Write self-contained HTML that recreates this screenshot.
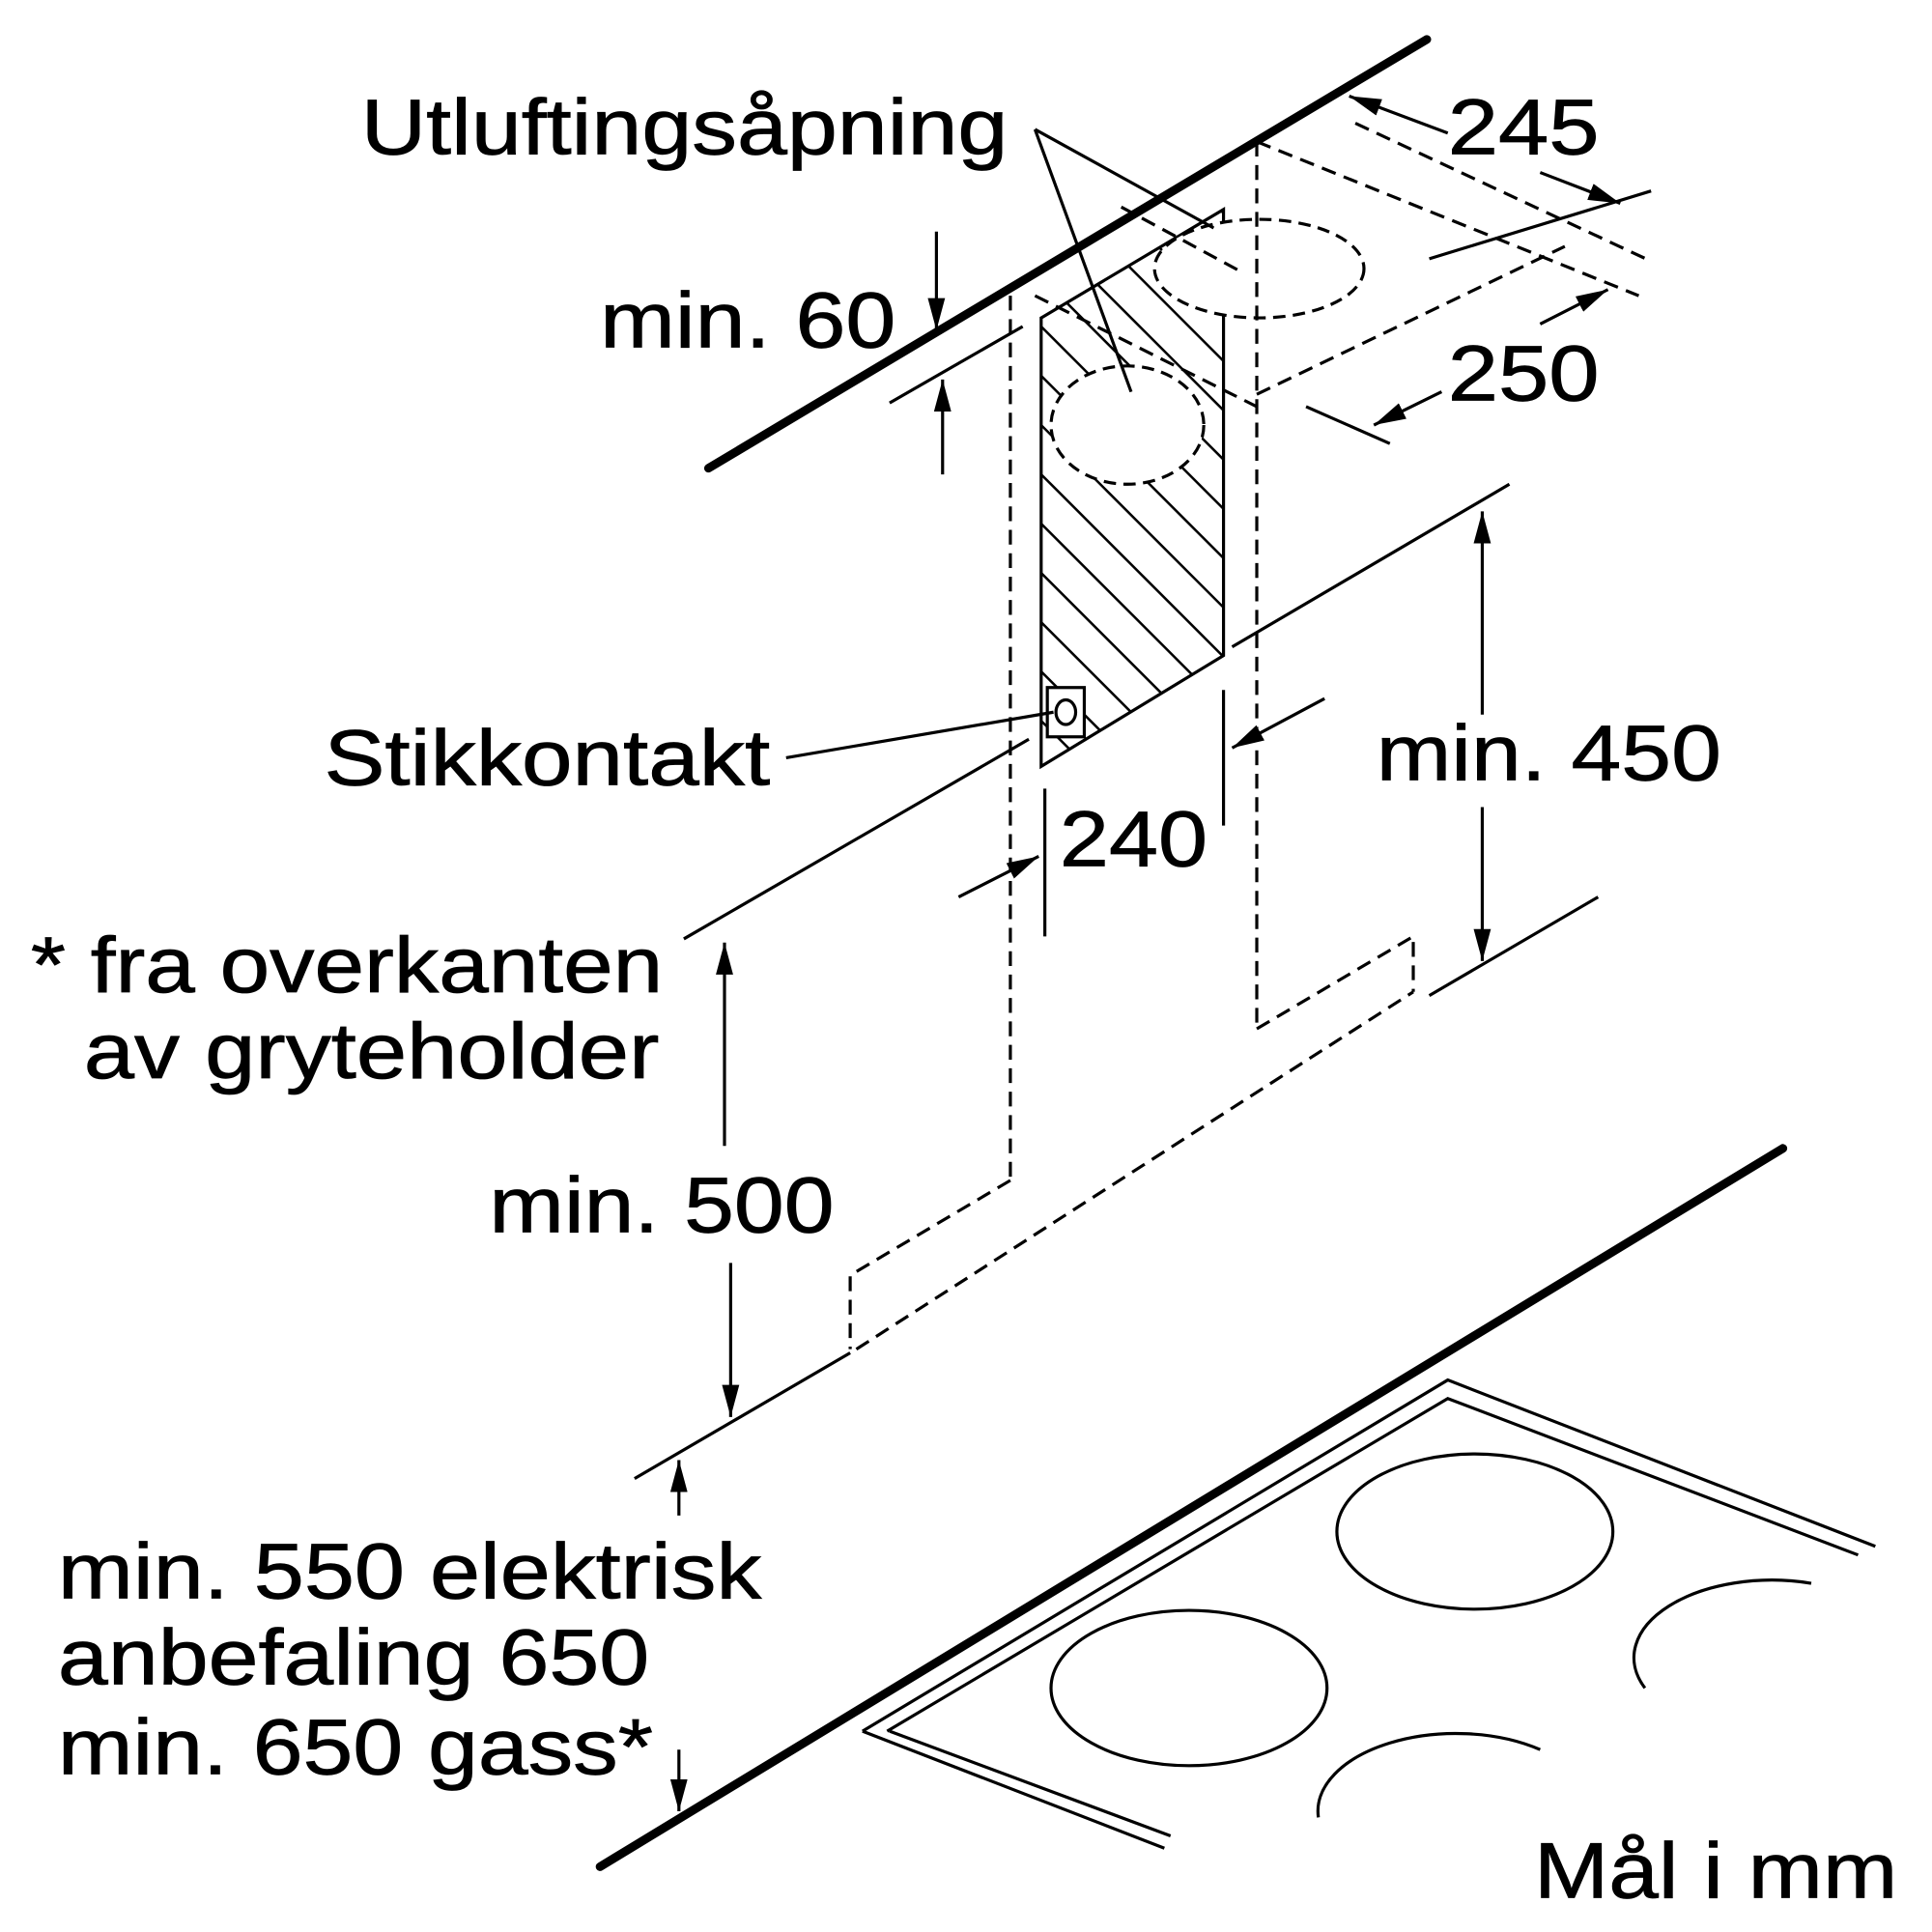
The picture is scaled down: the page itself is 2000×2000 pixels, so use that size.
<!DOCTYPE html>
<html><head><meta charset="utf-8"><style>
html,body{margin:0;padding:0;background:#fff;}
svg{display:block;}
text{font-family:"Liberation Sans",sans-serif;font-size:64px;fill:#000;stroke:#000;stroke-width:0.6;}
</style></head><body>
<svg width="2000" height="2000" viewBox="0 0 1568 1568" xmlns="http://www.w3.org/2000/svg">
<defs>
<marker id="b" markerWidth="26" markerHeight="14" refX="26" refY="7" orient="auto" markerUnits="userSpaceOnUse" viewBox="0 0 26 14">
<path d="M0,0 L26,7 L0,14 z" fill="#000"/></marker>
<clipPath id="pc"><polygon points="845,258 993,170 993,532 845,622"/></clipPath>
</defs>
<g stroke="#000" fill="none" stroke-width="2.5">
<line x1="575" y1="380" x2="1158" y2="32" stroke-width="7" stroke-linecap="round"/>
<line x1="487" y1="1515" x2="1447" y2="932" stroke-width="7" stroke-linecap="round"/>
<g clip-path="url(#pc)" stroke-width="2">
<line x1="700" y1="200" x2="1100" y2="600"/><line x1="700" y1="240" x2="1100" y2="640"/>
<line x1="700" y1="280" x2="1100" y2="680"/><line x1="700" y1="320" x2="1100" y2="720"/>
<line x1="700" y1="360" x2="1100" y2="760"/><line x1="700" y1="400" x2="1100" y2="800"/>
<line x1="700" y1="440" x2="1100" y2="840"/><line x1="700" y1="480" x2="1100" y2="880"/>
<line x1="700" y1="520" x2="1100" y2="920"/><line x1="700" y1="560" x2="1100" y2="960"/>
<line x1="700" y1="160" x2="1100" y2="560"/><line x1="700" y1="120" x2="1100" y2="520"/>
<line x1="700" y1="80" x2="1100" y2="480"/><line x1="700" y1="40" x2="1100" y2="440"/>
<line x1="700" y1="0" x2="1100" y2="400"/><line x1="700" y1="-40" x2="1100" y2="360"/>
<line x1="700" y1="-80" x2="1100" y2="320"/><line x1="700" y1="-120" x2="1100" y2="280"/>
<line x1="700" y1="-160" x2="1100" y2="240"/><line x1="700" y1="-200" x2="1100" y2="200"/>
</g>
<polygon points="845,258 993,170 993,532 845,622"/>
<ellipse cx="915" cy="345" rx="62" ry="48" fill="#fff" stroke-dasharray="10,6"/>
<ellipse cx="1022" cy="218" rx="85" ry="40" fill="#fff" stroke-dasharray="10,6"/>
<rect x="850" y="558" width="30" height="40" fill="#fff"/>
<ellipse cx="865" cy="578" rx="8" ry="10"/>
<g stroke-dasharray="12,7">
<line x1="820" y1="240" x2="820" y2="958"/>
<line x1="1020" y1="115" x2="1020" y2="835"/>
<polyline points="820,958 690,1035 690,1095"/>
<polyline points="1020,835 1147,760 1147,805"/>
<line x1="695" y1="1095" x2="1147" y2="805"/>
<line x1="840" y1="240" x2="1020" y2="330"/>
<line x1="1020" y1="115" x2="1330" y2="240"/>
<line x1="1020" y1="320" x2="1270" y2="200"/>
<line x1="1100" y1="100" x2="1340" y2="212"/>
<line x1="910" y1="168" x2="1010" y2="222"/>
</g>
<line x1="555" y1="762" x2="835" y2="600"/>
<line x1="1000" y1="525" x2="1225" y2="393"/>
<line x1="515" y1="1200" x2="690" y2="1098"/>
<line x1="1160" y1="808" x2="1297" y2="728"/>
<line x1="722" y1="327" x2="830" y2="265"/>
<line x1="1160" y1="210" x2="1340" y2="155"/>
<line x1="1060" y1="330" x2="1128" y2="360"/>
<line x1="760" y1="188" x2="760" y2="268" marker-end="url(#b)"/>
<line x1="765" y1="385" x2="765" y2="308" marker-end="url(#b)"/>
<line x1="1203" y1="580" x2="1203" y2="415" marker-end="url(#b)"/>
<line x1="1203" y1="655" x2="1203" y2="780" marker-end="url(#b)"/>
<line x1="588" y1="930" x2="588" y2="765" marker-end="url(#b)"/>
<line x1="593" y1="1025" x2="593" y2="1150" marker-end="url(#b)"/>
<line x1="551" y1="1230" x2="551" y2="1185" marker-end="url(#b)"/>
<line x1="551" y1="1420" x2="551" y2="1470" marker-end="url(#b)"/>
<line x1="848" y1="640" x2="848" y2="760"/>
<line x1="993" y1="560" x2="993" y2="670"/>
<line x1="778" y1="728" x2="843" y2="695" marker-end="url(#b)"/>
<line x1="1075" y1="567" x2="1000" y2="607" marker-end="url(#b)"/>
<line x1="1175" y1="108" x2="1095" y2="78" marker-end="url(#b)"/>
<line x1="1250" y1="140" x2="1315" y2="165" marker-end="url(#b)"/>
<line x1="1250" y1="263" x2="1305" y2="235" marker-end="url(#b)"/>
<line x1="1170" y1="318" x2="1115" y2="345" marker-end="url(#b)"/>
<line x1="840" y1="105" x2="918" y2="318"/>
<line x1="840" y1="105" x2="985" y2="185"/>
<line x1="638" y1="615" x2="855" y2="578"/>
<polyline points="700,1405 1175,1120 1522,1255"/>
<polyline points="720,1405 1175,1135 1508,1262"/>
<line x1="700" y1="1405" x2="945" y2="1500"/>
<line x1="722" y1="1405" x2="950" y2="1490"/>
<ellipse cx="1197" cy="1243" rx="112" ry="63"/>
<ellipse cx="965" cy="1370" rx="112" ry="63"/>
<path d="M1335,1370 A112,63 0 0 1 1470,1285"/>
<path d="M1070,1475 A112,63 0 0 1 1250,1420"/>
</g>
<text x="293" y="125" textLength="525" lengthAdjust="spacingAndGlyphs">Utluftingsåpning</text>
<text x="1175" y="125" textLength="123" lengthAdjust="spacingAndGlyphs">245</text>
<text x="487" y="282" textLength="240" lengthAdjust="spacingAndGlyphs">min. 60</text>
<text x="1175" y="325" textLength="123" lengthAdjust="spacingAndGlyphs">250</text>
<text x="263" y="637" textLength="362" lengthAdjust="spacingAndGlyphs">Stikkontakt</text>
<text x="1117" y="633" textLength="280" lengthAdjust="spacingAndGlyphs">min. 450</text>
<text x="860" y="703" textLength="120" lengthAdjust="spacingAndGlyphs">240</text>
<text x="25" y="805" textLength="513" lengthAdjust="spacingAndGlyphs">* fra overkanten</text>
<text x="68" y="875" textLength="467" lengthAdjust="spacingAndGlyphs">av gryteholder</text>
<text x="397" y="1000" textLength="280" lengthAdjust="spacingAndGlyphs">min. 500</text>
<text x="47" y="1297" textLength="571" lengthAdjust="spacingAndGlyphs">min. 550 elektrisk</text>
<text x="47" y="1367" textLength="480" lengthAdjust="spacingAndGlyphs">anbefaling 650</text>
<text x="47" y="1440" textLength="483" lengthAdjust="spacingAndGlyphs">min. 650 gass*</text>
<text x="1245" y="1540" textLength="295" lengthAdjust="spacingAndGlyphs">Mål i mm</text>
</svg>
</body></html>
